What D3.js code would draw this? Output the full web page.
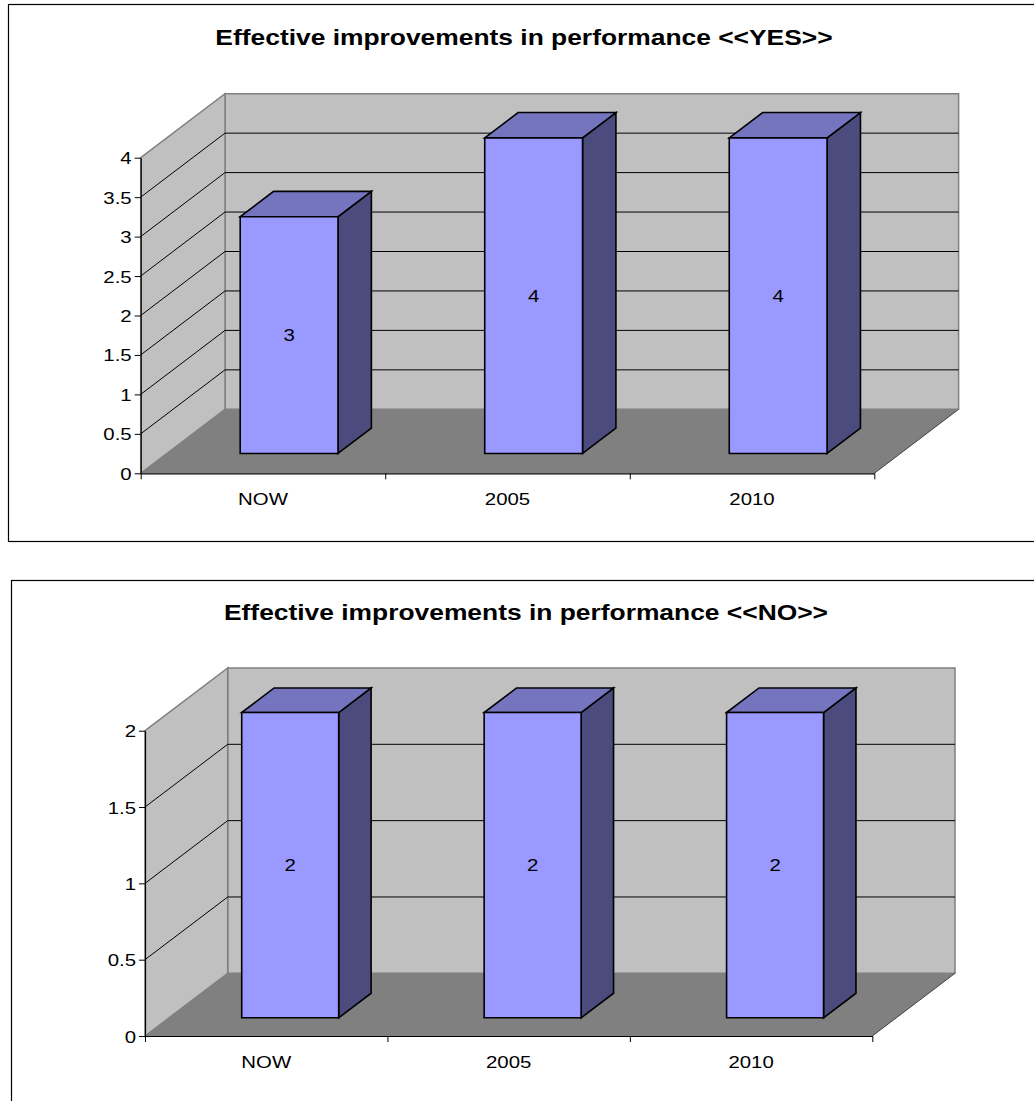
<!DOCTYPE html>
<html>
<head>
<meta charset="utf-8">
<script src="https://cdn.jsdelivr.net/npm/d3@7"></script>
<style>
  html, body { margin: 0; padding: 0; background: #fff; }
  svg { display: block; font-family: "Liberation Sans", Arial, sans-serif; }
</style>
</head>
<body>
<svg id="page" width="1034" height="1101"></svg>
<script>
// ---------- Data ----------
const categories = ["NOW", "2005", "2010"];
const yesValues = [3, 4, 4];
const noValues = [2, 2, 2];
const yesTicks = [0, 0.5, 1, 1.5, 2, 2.5, 3, 3.5, 4];
const noTicks = [0, 0.5, 1, 1.5, 2];
const yesTitle = "Effective improvements in performance <<YES>>";
const noTitle = "Effective improvements in performance <<NO>>";

// ---------- Layout (per chart) ----------
const charts = [
  {
    title: yesTitle, values: yesValues, ticks: yesTicks,
    box: { x: 8.5, y: 4.5, w: 1040, h: 537 },
    titleX: 524, titleY: 45,
    x0: 140.7, x1: 874.3, yBase: 473.3, yTop: 157.7,
    depthX: 84.3, depthY: 64, d0: 0.31, d1: 0.706
  },
  {
    title: noTitle, values: noValues, ticks: noTicks,
    box: { x: 11.5, y: 580.5, w: 1040, h: 600 },
    titleX: 526, titleY: 620,
    x0: 145, x1: 872.3, yBase: 1036, yTop: 730.7,
    depthX: 82.7, depthY: 62.7, d0: 0.29, d1: 0.682
  }
];

const COLORS = {
  wall: "#c0c0c0", wallEdge: "#808080", floor: "#808080",
  front: "#9999ff", top: "#7575bf", side: "#4b4b7e"
};
const STRETCH = 1.2; // the source text is stretched horizontally

const svg = d3.select("#page");

function drawChart(cfg) {
  const g = svg.append("g");
  const maxV = d3.max(cfg.ticks);

  const y = d3.scaleLinear().domain([0, maxV]).range([cfg.yBase, cfg.yTop]);
  const x = d3.scaleBand().domain(categories).range([cfg.x0, cfg.x1]);
  const xEdge = d3.scaleLinear().domain([0, categories.length]).range([cfg.x0, cfg.x1]);

  // 3D projection: screen x, value, depth (0 front .. 1 back)
  const P = (px, v, d) => [px + d * cfg.depthX, y(v) - d * cfg.depthY];
  const poly = pts => pts.map(p => p.join(",")).join(" ");

  // frame
  g.append("rect")
    .attr("x", cfg.box.x).attr("y", cfg.box.y)
    .attr("width", cfg.box.w).attr("height", cfg.box.h)
    .attr("fill", "none").attr("stroke", "#000").attr("stroke-width", 1.2);

  // title
  g.append("text")
    .attr("transform", `translate(${cfg.titleX},${cfg.titleY}) scale(${STRETCH},1)`)
    .attr("text-anchor", "middle")
    .style("font-size", "22px").style("font-weight", "bold")
    .text(cfg.title);

  // walls
  g.append("polygon")
    .attr("points", poly([P(cfg.x0, 0, 1), P(cfg.x1, 0, 1), P(cfg.x1, maxV, 1), P(cfg.x0, maxV, 1)]))
    .attr("fill", COLORS.wall).attr("stroke", COLORS.wallEdge).attr("stroke-width", 1.5);
  g.append("polygon")
    .attr("points", poly([P(cfg.x0, 0, 0), P(cfg.x0, 0, 1), P(cfg.x0, maxV, 1), P(cfg.x0, maxV, 0)]))
    .attr("fill", COLORS.wall).attr("stroke", COLORS.wallEdge).attr("stroke-width", 1.5);
  g.append("polygon")
    .attr("points", poly([P(cfg.x0, 0, 0), P(cfg.x1, 0, 0), P(cfg.x1, 0, 1), P(cfg.x0, 0, 1)]))
    .attr("fill", COLORS.floor);
  g.append("line")
    .attr("x1", P(cfg.x1, 0, 0)[0]).attr("y1", P(cfg.x1, 0, 0)[1])
    .attr("x2", P(cfg.x1, 0, 1)[0]).attr("y2", P(cfg.x1, 0, 1)[1])
    .attr("stroke", "#404040").attr("stroke-width", 1);

  // gridlines (back wall + side wall diagonals)
  const inner = cfg.ticks.filter(t => t > 0 && t < maxV);
  g.selectAll(".grid").data(inner).enter().append("polyline")
    .attr("points", t => poly([P(cfg.x0, t, 0), P(cfg.x0, t, 1), P(cfg.x1, t, 1)]))
    .attr("fill", "none").attr("stroke", "#000").attr("stroke-width", 1);

  // y axis
  const yAxis = g.append("g")
    .attr("transform", `translate(${cfg.x0},0)`)
    .call(d3.axisLeft(y).tickValues(cfg.ticks).tickSize(6).tickSizeOuter(0).tickFormat(d3.format("~g")));
  yAxis.select(".domain").attr("stroke", "#000").attr("stroke-width", 1.2);
  yAxis.selectAll(".tick line").attr("stroke", "#000");
  yAxis.selectAll(".tick text")
    .attr("x", null).attr("dy", null)
    .attr("transform", `translate(-9,6) scale(${STRETCH},1)`)
    .attr("fill", "#000")
    .style("font-size", "17px").style("font-family", "'Liberation Sans', Arial, sans-serif");

  // x axis (ticks at category boundaries)
  const xAxis = g.append("g")
    .attr("transform", `translate(0,${cfg.yBase})`)
    .call(d3.axisBottom(xEdge).tickValues(d3.range(categories.length + 1)).tickSize(6).tickSizeOuter(0).tickFormat(""));
  xAxis.select(".domain").attr("stroke", "#000").attr("stroke-width", 1.2);
  xAxis.selectAll(".tick line").attr("stroke", "#000");

  g.selectAll(".cat").data(categories).enter().append("text")
    .attr("transform", d => `translate(${x(d) + x.bandwidth() / 2},${cfg.yBase + 32}) scale(${STRETCH},1)`)
    .attr("text-anchor", "middle")
    .style("font-size", "17px")
    .text(d => d);

  // bars
  const barW = x.bandwidth() * 0.4;
  const rows = categories.map((c, i) => ({ cat: c, v: cfg.values[i] }));
  const bar = g.selectAll(".bar").data(rows).enter().append("g");
  const bx0 = d => x(d.cat) + x.bandwidth() / 2 - barW / 2;
  const bx1 = d => bx0(d) + barW;

  bar.append("polygon")
    .attr("points", d => poly([P(bx1(d), 0, cfg.d0), P(bx1(d), 0, cfg.d1), P(bx1(d), d.v, cfg.d1), P(bx1(d), d.v, cfg.d0)]))
    .attr("fill", COLORS.side);
  bar.append("polygon")
    .attr("points", d => poly([P(bx0(d), d.v, cfg.d0), P(bx1(d), d.v, cfg.d0), P(bx1(d), d.v, cfg.d1), P(bx0(d), d.v, cfg.d1)]))
    .attr("fill", COLORS.top);
  bar.append("polygon")
    .attr("points", d => poly([P(bx0(d), 0, cfg.d0), P(bx1(d), 0, cfg.d0), P(bx1(d), d.v, cfg.d0), P(bx0(d), d.v, cfg.d0)]))
    .attr("fill", COLORS.front);
  bar.selectAll("polygon")
    .attr("stroke", "#000").attr("stroke-width", 1.6).attr("stroke-linejoin", "miter");

  // value labels in the middle of the front face
  bar.append("text")
    .attr("transform", d => {
      const cx = (bx0(d) + bx1(d)) / 2 + cfg.d0 * cfg.depthX;
      const cy = (y(0) + y(d.v)) / 2 - cfg.d0 * cfg.depthY;
      return `translate(${cx},${cy + 6}) scale(${STRETCH},1)`;
    })
    .attr("text-anchor", "middle")
    .style("font-size", "17px")
    .text(d => d.v);
}

charts.forEach(drawChart);
</script>
</body>
</html>
